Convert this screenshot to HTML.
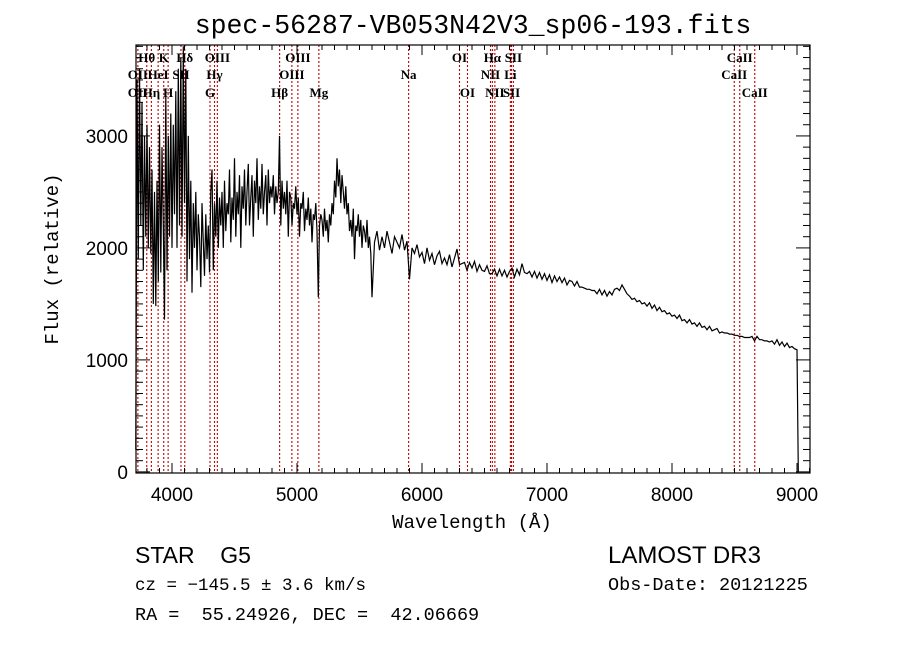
<!DOCTYPE html>
<html><head><meta charset="utf-8"><style>
body{margin:0;background:#fff;}
svg{display:block;}
.sans{font-family:"Liberation Sans",sans-serif;}
.mono{font-family:"Liberation Mono",monospace;white-space:pre;}
.ln{font-family:"Liberation Serif",serif;font-size:13px;font-weight:bold;}
</style></head><body>
<svg id="chart" width="900" height="649" viewBox="0 0 900 649" xmlns="http://www.w3.org/2000/svg">
<rect width="900" height="649" fill="#fff"/>
<text class="mono" x="473" y="33" font-size="26.5" text-anchor="middle">spec-56287-VB053N42V3_sp06-193.fits</text>
<g id="lines"></g>
<g id="labels"></g>
<polyline id="spec" fill="none" stroke="#000" stroke-width="1.2"/>
<rect x="136" y="45" width="674" height="428" fill="none" stroke="#000" stroke-width="1.2"/>
<g id="axes"></g>
<text class="mono" x="472" y="528" font-size="19" text-anchor="middle">Wavelength (Å)</text>
<text class="mono" transform="translate(58,259) rotate(-90)" font-size="19" text-anchor="middle">Flux (relative)</text>
<text class="sans" x="135" y="563" font-size="23" xml:space="preserve">STAR    G5</text>
<text class="sans" x="608" y="563" font-size="24">LAMOST DR3</text>
<text class="mono" x="135" y="590" font-size="17.5">cz = −145.5 ± 3.6 km/s</text>
<text class="mono" x="608" y="590" font-size="18.5">Obs-Date: 20121225</text>
<text class="mono" x="135" y="620" font-size="18.5">RA =  55.24926, DEC =  42.06669</text>
</svg>
<script>
const blueStart = 3710, blueStep = 10;
const fluxBlue = [200,3500,1900,3600,2200,3300,1800,3000,2100,
3100,2000,2900,1950,2700,1500,2500,1480,2600,1700,
3100,1780,2900,2200,1360,3400,1800,3000,2100,3200,
2000,3100,2300,3400,2000,3600,2200,3700,2100,3800,
2400,3600,1700,3000,1900,2600,1600,2400,2000,2500,
1800,2300,2100,1650,2400,2050,1750,2300,1900,2200,
1780,2500,2700,1800,2400,2100,2600,2000,2450,2200,
2500,2000,2600,2150,2400,2300,2700,2050,2450,2250,
2800,2100,2500,2300,2650,2000,2550,2350,2700,2200,
2500,2750,2200,2450,2650,2100,2600,2400,2800,2250,
2550,2350,2750,2300,2500,2650,2200,2700,2400,2550,
2450,2650,2300,2550,2400,2500,3000,2200,2600,2350,
2500,2300,2600,2100,2500,2450,2200,2400,2350,2550,
2300,2450,2100,2400,2350,2500,2150,2350,2250,2450,
2200,2350,2050,2300,2250,2400,2150,1560,2200,2300,
2250,2100,2350,2150,2250,2050,2300,2200,2400,2300,
2600,2450,2800,2550,2700,2400,2650,2500,2350,2550,
2300,2400,2150,2250,2100,2350,1900,2200,2150,2300,
2100,2250,2000,2200,2150,2050,2250,2000,2100,1950];
const redStart = 5600, redStep = 20;
const fluxRed = [1560,2050,2150,1980,2100,2000,2150,2050,1950,2100,
2050,2000,2120,1980,2060,1720,2000,1950,2030,1920,
1960,1860,2000,1890,1950,1850,1930,1970,1860,1910,
1850,1940,1830,1910,1990,1850,1860,1870,1800,1870,
1820,1880,1790,1850,1800,1790,1840,1770,1770,1810,
1750,1810,1750,1800,1740,1790,1820,1740,1810,1760,
1860,1780,1770,1790,1740,1790,1730,1780,1720,1770,
1710,1760,1690,1750,1700,1740,1690,1730,1670,1710,
1700,1660,1700,1650,1650,1640,1630,1630,1620,1620,
1590,1630,1580,1620,1570,1610,1580,1630,1640,1620,
1670,1630,1590,1570,1540,1550,1520,1530,1500,1510,
1480,1510,1460,1490,1440,1470,1430,1440,1410,1420,
1390,1400,1370,1400,1350,1360,1330,1360,1320,1330,
1300,1330,1290,1300,1270,1300,1260,1270,1280,1240,
1250,1240,1240,1230,1230,1220,1220,1210,1210,1200,
1200,1200,1210,1170,1210,1180,1180,1170,1170,1160,
1170,1140,1180,1130,1160,1120,1150,1110,1120,1100,
1090,0];
const lineWaves = [3727,3798,3835,3889,3934,3969,4072,4102,4304,4340,4363,4861,4959,5007,5175,5893,6300,6364,6548,6563,6583,6707,6716,6731,8498,8542,8662];
const labelNames = ["Hθ","K","Hδ","OIII","OIII","OI","Hα","SII","CaII","OII","HeI","SII","Hγ","OIII","Na","NII","Li","CaII","OII","Hη","H","G","Hβ","Mg","OI","NII","SII","CaII"];
const labelWaves = [3798,3934,4102,4363,5007,6300,6563,6731,8542,3727,3889,4072,4340,4959,5893,6548,6707,8498,3727,3835,3969,4304,4861,5175,6364,6583,6716,8662];
const labelRows = [0,0,0,0,0,0,0,0,0,1,1,1,1,1,1,1,1,1,2,2,2,2,2,2,2,2,2,2];
const xTicks = [4000,5000,6000,7000,8000,9000];
const yTicks = [0,1000,2000,3000];

const X0=136,X1=810,W0=3712,W1=9104,Y0=473,Y1=45,F0=-10,F1=3812;
const xs=w=>X0+(w-W0)/(W1-W0)*(X1-X0);
const ys=f=>{const y=Y0-(f-F0)/(F1-F0)*(Y0-Y1);return Math.max(Y1,Math.min(Y0,y));};
const NS='http://www.w3.org/2000/svg';
function mk(t,a,p){const e=document.createElementNS(NS,t);for(const k in a)e.setAttribute(k,a[k]);p.appendChild(e);return e;}

const pts=[];
fluxBlue.forEach((f,i)=>pts.push(xs(blueStart+i*blueStep).toFixed(1)+','+ys(f).toFixed(1)));
fluxRed.forEach((f,i)=>{let w=redStart+i*redStep;if(i===fluxRed.length-1)w=9010;pts.push(xs(w).toFixed(1)+','+ys(f).toFixed(1));});
document.getElementById('spec').setAttribute('points',pts.join(' '));

const lg=document.getElementById('lines');
lineWaves.forEach(w=>{
  const l=mk('line',{x1:xs(w),x2:xs(w),y1:Y1,y2:Y0,stroke:'#c00000','stroke-width':1.1,'stroke-dasharray':'2,2'},lg);
  
  
});
const lb=document.getElementById('labels');
const rowY=[62,79,97];
labelNames.forEach((n,i)=>{
  const t=mk('text',{x:xs(labelWaves[i]),y:rowY[labelRows[i]],'text-anchor':'middle','class':'ln'},lb);
  t.textContent=n;
  
  
});

const ax=document.getElementById('axes');
for(let w=3800;w<=9100;w+=100){
  const x=xs(w),maj=w%1000===0,L=maj?10:5;
  mk('line',{x1:x,x2:x,y1:Y0,y2:Y0-L,stroke:'#000','stroke-width':1},ax);
  mk('line',{x1:x,x2:x,y1:Y1,y2:Y1+L,stroke:'#000','stroke-width':1},ax);
}
for(let f=0;f<=3800;f+=100){
  const y=ys(f),maj=f%1000===0,L=maj?14:7;
  mk('line',{x1:X0,x2:X0+L,y1:y,y2:y,stroke:'#000','stroke-width':1},ax);
  mk('line',{x1:X1,x2:X1-L,y1:y,y2:y,stroke:'#000','stroke-width':1},ax);
}
xTicks.forEach(w=>{
  const t=mk('text',{x:xs(w),y:501,'font-size':19,'text-anchor':'middle','class':'sans'},ax);
  t.textContent=w;
  
  
});
yTicks.forEach(f=>{
  const t=mk('text',{x:128,y:ys(f)+7,'font-size':19,'text-anchor':'end','class':'sans'},ax);
  t.textContent=f;
  
  
});
</script>
</body></html>
